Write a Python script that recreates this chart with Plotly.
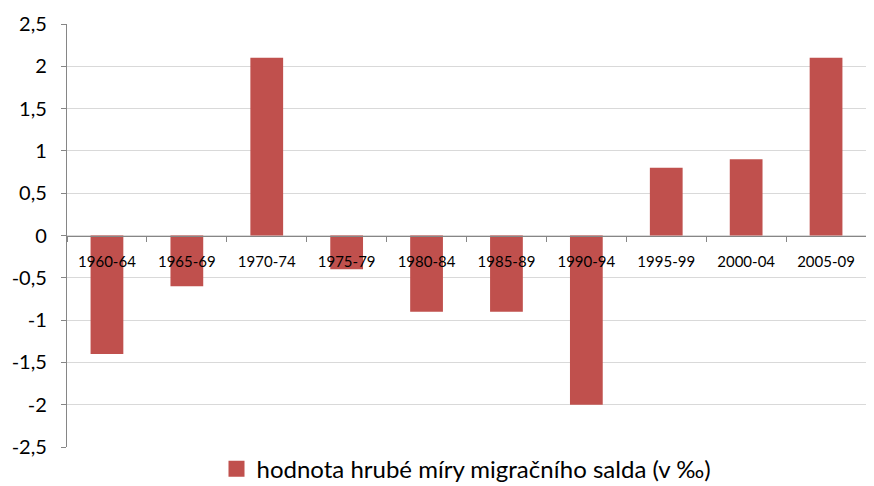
import plotly.graph_objects as go

categories = ["1960-64", "1965-69", "1970-74", "1975-79", "1980-84",
              "1985-89", "1990-94", "1995-99", "2000-04", "2005-09"]
values = [-1.4, -0.6, 2.1, -0.4, -0.9, -0.9, -2.0, 0.8, 0.9, 2.1]
series_name = "hodnota hrubé míry migračního salda (v ‰)"
y_ticks = [-2.5, -2, -1.5, -1, -0.5, 0, 0.5, 1, 1.5, 2, 2.5]
y_ticktext = ["-2,5", "-2", "-1,5", "-1", "-0,5", "0", "0,5", "1", "1,5", "2", "2,5"]

color = "#C0504D"

fig = go.Figure()
fig.add_trace(go.Bar(
    x=categories, y=values, name=series_name,
    marker=dict(color=color, line=dict(width=0)),
    showlegend=False,
))
# legend swatch
fig.add_trace(go.Scatter(
    x=[None], y=[None], mode="markers", name=series_name,
    marker=dict(symbol="square", size=16, color=color),
    showlegend=True,
))

fig.update_layout(
    width=866, height=478,
    margin=dict(l=59, r=8, t=16, b=39, autoexpand=False),
    paper_bgcolor="white", plot_bgcolor="white",
    bargap=0.59,
    showlegend=True,
    legend=dict(orientation="h", x=0.5, xanchor="center",
                yref="container", y=0.035, yanchor="middle",
                itemwidth=30,
                font=dict(family="Lato, sans-serif", size=24, color="#000")),
    xaxis=dict(
        type="category", range=[-0.5, 9.5],
        anchor="free", position=0.5,
        showline=True, linecolor="#868686", linewidth=1.3,
        ticks="outside", tickson="boundaries", ticklen=5, tickcolor="#868686",
        showgrid=False, ticklabelstandoff=12,
        tickfont=dict(family="Lato, sans-serif", size=15, color="#000"),
    ),
    yaxis=dict(
        range=[-2.5, 2.5], tickvals=y_ticks, ticktext=y_ticktext,
        showline=True, linecolor="#868686", linewidth=1.3,
        ticks="outside", ticklen=5, tickcolor="#868686",
        showgrid=True, gridcolor="#D9D9D9", gridwidth=1.3,
        zeroline=False, ticklabelstandoff=10,
        tickfont=dict(family="Lato, sans-serif", size=20, color="#000"),
    ),
)

fig.write_html("out.html")
